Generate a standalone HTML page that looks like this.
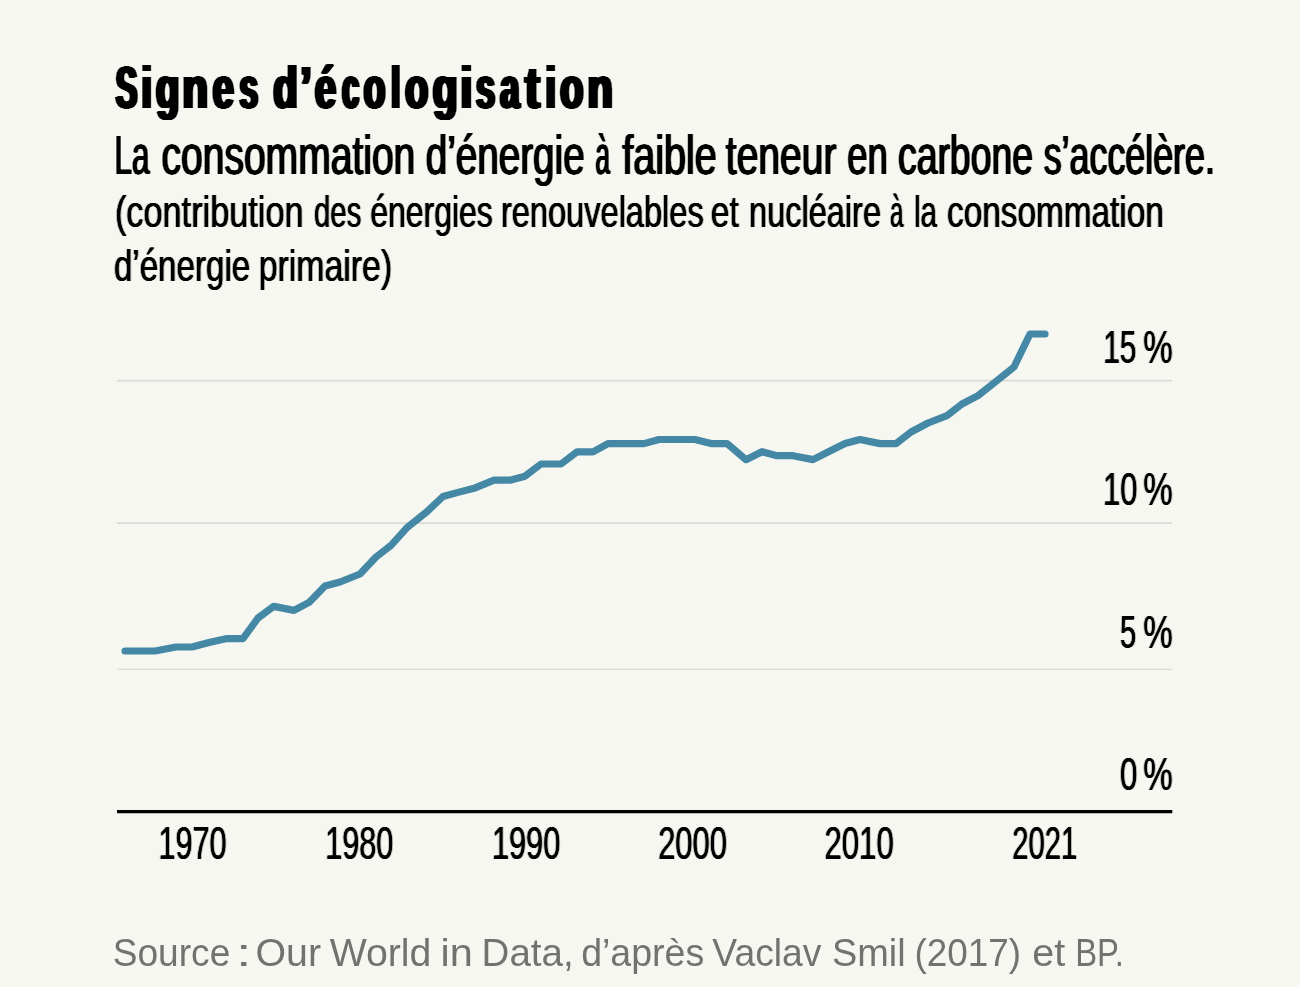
<!DOCTYPE html>
<html lang="fr">
<head>
<meta charset="utf-8">
<title>Signes d’écologisation</title>
<style>
html,body{margin:0;padding:0;background:#f7f7f2;}
body{width:1300px;height:987px;overflow:hidden;font-family:"Liberation Sans",sans-serif;}
svg{display:block;}
text{font-family:"Liberation Sans",sans-serif;fill:#000;}
.t{font-weight:bold;font-size:59.3px;}
.s{font-size:56px;}
.n{font-size:44.5px;}
.a{font-size:45.8px;}
.src{font-size:39px;fill:#727370;}
</style>
</head>
<body>
<svg width="1300" height="987" viewBox="0 0 1300 987">
<rect width="1300" height="987" fill="#f7f7f2"/>
<defs>
<filter id="ft" filterUnits="userSpaceOnUse" x="0" y="0" width="1300" height="987" color-interpolation-filters="sRGB"><feConvolveMatrix order="5 1" kernelMatrix="0.7 1 1 1 0.7" divisor="1"/></filter>
<filter id="fs" filterUnits="userSpaceOnUse" x="0" y="0" width="1300" height="987" color-interpolation-filters="sRGB"><feConvolveMatrix order="3 1" kernelMatrix="0.65 1 0.65" divisor="1"/></filter>
<filter id="fn" filterUnits="userSpaceOnUse" x="0" y="0" width="1300" height="987" color-interpolation-filters="sRGB"><feConvolveMatrix order="3 1" kernelMatrix="0.35 1 0.35" divisor="1"/></filter>
<filter id="fa" filterUnits="userSpaceOnUse" x="0" y="0" width="1300" height="987" color-interpolation-filters="sRGB"><feConvolveMatrix order="3 1" kernelMatrix="0.3 1 0.3" divisor="1"/></filter>
</defs>
<g filter="url(#ft)">
<text class="t" y="108.4"><tspan x="115.80" textLength="21.56" lengthAdjust="spacingAndGlyphs">S</tspan><tspan x="141.38" textLength="10.31" lengthAdjust="spacingAndGlyphs">i</tspan><tspan x="155.91" textLength="23.34" lengthAdjust="spacingAndGlyphs">g</tspan><tspan x="182.60" textLength="25.41" lengthAdjust="spacingAndGlyphs">n</tspan><tspan x="212.82" textLength="21.02" lengthAdjust="spacingAndGlyphs">e</tspan><tspan x="239.55" textLength="18.60" lengthAdjust="spacingAndGlyphs">s</tspan> <tspan x="273.25" textLength="24.52" lengthAdjust="spacingAndGlyphs">d</tspan><tspan x="300.42" textLength="11.02" lengthAdjust="spacingAndGlyphs">’</tspan><tspan x="315.12" textLength="21.02" lengthAdjust="spacingAndGlyphs">é</tspan><tspan x="342.26" textLength="16.80" lengthAdjust="spacingAndGlyphs">c</tspan><tspan x="363.70" textLength="21.56" lengthAdjust="spacingAndGlyphs">o</tspan><tspan x="391.16" textLength="9.07" lengthAdjust="spacingAndGlyphs">l</tspan><tspan x="405.13" textLength="22.90" lengthAdjust="spacingAndGlyphs">o</tspan><tspan x="432.73" textLength="24.88" lengthAdjust="spacingAndGlyphs">g</tspan><tspan x="460.56" textLength="11.74" lengthAdjust="spacingAndGlyphs">i</tspan><tspan x="476.03" textLength="19.06" lengthAdjust="spacingAndGlyphs">s</tspan><tspan x="500.36" textLength="19.22" lengthAdjust="spacingAndGlyphs">a</tspan><tspan x="525.10" textLength="14.92" lengthAdjust="spacingAndGlyphs">t</tspan><tspan x="545.58" textLength="10.31" lengthAdjust="spacingAndGlyphs">i</tspan><tspan x="560.22" textLength="23.12" lengthAdjust="spacingAndGlyphs">o</tspan><tspan x="587.61" textLength="25.29" lengthAdjust="spacingAndGlyphs">n</tspan></text>
</g>
<g filter="url(#fs)">
<text class="s" y="174.4"><tspan x="114.39" textLength="35.06" lengthAdjust="spacingAndGlyphs">La</tspan> <tspan x="161.43" textLength="253.91" lengthAdjust="spacingAndGlyphs">consommation</tspan> <tspan x="425.64" textLength="159.08" lengthAdjust="spacingAndGlyphs">d’énergie</tspan> <tspan x="595.54" textLength="14.45" lengthAdjust="spacingAndGlyphs">à</tspan> <tspan x="622.15" textLength="94.60" lengthAdjust="spacingAndGlyphs">faible</tspan> <tspan x="725.85" textLength="110.59" lengthAdjust="spacingAndGlyphs">teneur</tspan> <tspan x="847.22" textLength="40.37" lengthAdjust="spacingAndGlyphs">en</tspan> <tspan x="897.98" textLength="134.98" lengthAdjust="spacingAndGlyphs">carbone</tspan> <tspan x="1043.69" textLength="171.20" lengthAdjust="spacingAndGlyphs">s’accélère.</tspan></text>
</g>
<g filter="url(#fn)">
<text class="n" y="227.4"><tspan x="114.94" textLength="188.63" lengthAdjust="spacingAndGlyphs">(contribution</tspan> <tspan x="314.03" textLength="47.33" lengthAdjust="spacingAndGlyphs">des</tspan> <tspan x="370.15" textLength="122.70" lengthAdjust="spacingAndGlyphs">énergies</tspan> <tspan x="500.91" textLength="202.85" lengthAdjust="spacingAndGlyphs">renouvelables</tspan> <tspan x="710.80" textLength="27.93" lengthAdjust="spacingAndGlyphs">et</tspan> <tspan x="749.12" textLength="131.85" lengthAdjust="spacingAndGlyphs">nucléaire</tspan> <tspan x="889.90" textLength="13.40" lengthAdjust="spacingAndGlyphs">à</tspan> <tspan x="913.91" textLength="22.96" lengthAdjust="spacingAndGlyphs">la</tspan> <tspan x="947.01" textLength="216.81" lengthAdjust="spacingAndGlyphs">consommation</tspan></text>
<text class="n" y="280.9"><tspan x="113.91" textLength="136.28" lengthAdjust="spacingAndGlyphs">d’énergie</tspan> <tspan x="258.63" textLength="133.57" lengthAdjust="spacingAndGlyphs">primaire)</tspan></text>
</g>
<g stroke="#dadad6" stroke-width="1.8">
<line x1="117" y1="380.7" x2="1172" y2="380.7"/>
<line x1="117" y1="523.1" x2="1172" y2="523.1"/>
<line x1="117" y1="669.4" x2="1172" y2="669.4" stroke-width="1.1"/>
</g>
<line x1="117" y1="811.6" x2="1172.3" y2="811.6" stroke="#000" stroke-width="3.4"/>
<polyline fill="none" stroke="#4488a6" stroke-width="7.2" stroke-linecap="round" stroke-linejoin="round" points="125,651 141.5,651 155,651 176,647 192,647 209,642.5 227,638.6 243,638.6 258,618 273.6,606.4 294,610.4 309,602.4 325,586 340,582 360,574 376,557 391,545.4 407.5,527.2 427,511.6 443,496.5 458,492.4 474,488.3 494,480.2 510,480.2 525,476.2 541,464 561,464 577,451.8 593,451.8 608,443.6 626,443.6 644,443.6 659,439.5 677,439.5 695,439.5 711,443.6 727,443.6 746,459.7 762,451.7 777,455.7 793,455.7 813,459.6 829,451.5 845,443.5 860,439.5 880,443.6 896,443.6 911,432 928,423 947,415.6 962,404 978,395.6 994,383 1014,367 1030,334 1045,334"/>
<g filter="url(#fa)">
<text class="a" y="362.6"><tspan x="1103.13" textLength="33.28" lengthAdjust="spacingAndGlyphs">15</tspan> <tspan x="1143.17" textLength="29.42" lengthAdjust="spacingAndGlyphs">%</tspan></text>
<text class="a" y="504.9"><tspan x="1103.07" textLength="34.29" lengthAdjust="spacingAndGlyphs">10</tspan> <tspan x="1143.17" textLength="29.42" lengthAdjust="spacingAndGlyphs">%</tspan></text>
<text class="a" y="647.8"><tspan x="1119.99" textLength="16.19" lengthAdjust="spacingAndGlyphs">5</tspan> <tspan x="1143.17" textLength="29.42" lengthAdjust="spacingAndGlyphs">%</tspan></text>
<text class="a" y="789.9"><tspan x="1120.03" textLength="17.35" lengthAdjust="spacingAndGlyphs">0</tspan> <tspan x="1143.17" textLength="29.42" lengthAdjust="spacingAndGlyphs">%</tspan></text>
<text class="a" y="859.0"><tspan x="158.38" textLength="68.28" lengthAdjust="spacingAndGlyphs">1970</tspan></text>
<text class="a" y="859.0"><tspan x="325.18" textLength="68.18" lengthAdjust="spacingAndGlyphs">1980</tspan></text>
<text class="a" y="859.0"><tspan x="491.88" textLength="68.39" lengthAdjust="spacingAndGlyphs">1990</tspan></text>
<text class="a" y="859.0"><tspan x="658.15" textLength="68.72" lengthAdjust="spacingAndGlyphs">2000</tspan></text>
<text class="a" y="859.0"><tspan x="824.54" textLength="69.13" lengthAdjust="spacingAndGlyphs">2010</tspan></text>
<text class="a" y="859.0"><tspan x="1012.33" textLength="64.85" lengthAdjust="spacingAndGlyphs">2021</tspan></text>
</g>
<text class="src" y="966.2"><tspan x="112.74" textLength="117.56" lengthAdjust="spacingAndGlyphs">Source</tspan> <tspan x="236.04" textLength="15.50" lengthAdjust="spacingAndGlyphs">:</tspan> <tspan x="255.46" textLength="65.53" lengthAdjust="spacingAndGlyphs">Our</tspan> <tspan x="329.70" textLength="101.70" lengthAdjust="spacingAndGlyphs">World</tspan> <tspan x="440.50" textLength="32.33" lengthAdjust="spacingAndGlyphs">in</tspan> <tspan x="481.59" textLength="92.09" lengthAdjust="spacingAndGlyphs">Data,</tspan> <tspan x="581.13" textLength="123.15" lengthAdjust="spacingAndGlyphs">d’après</tspan> <tspan x="712.30" textLength="109.20" lengthAdjust="spacingAndGlyphs">Vaclav</tspan> <tspan x="831.92" textLength="73.68" lengthAdjust="spacingAndGlyphs">Smil</tspan> <tspan x="914.47" textLength="106.64" lengthAdjust="spacingAndGlyphs">(2017)</tspan> <tspan x="1032.26" textLength="33.00" lengthAdjust="spacingAndGlyphs">et</tspan> <tspan x="1075.14" textLength="48.62" lengthAdjust="spacingAndGlyphs">BP.</tspan></text>
</svg>
</body>
</html>
